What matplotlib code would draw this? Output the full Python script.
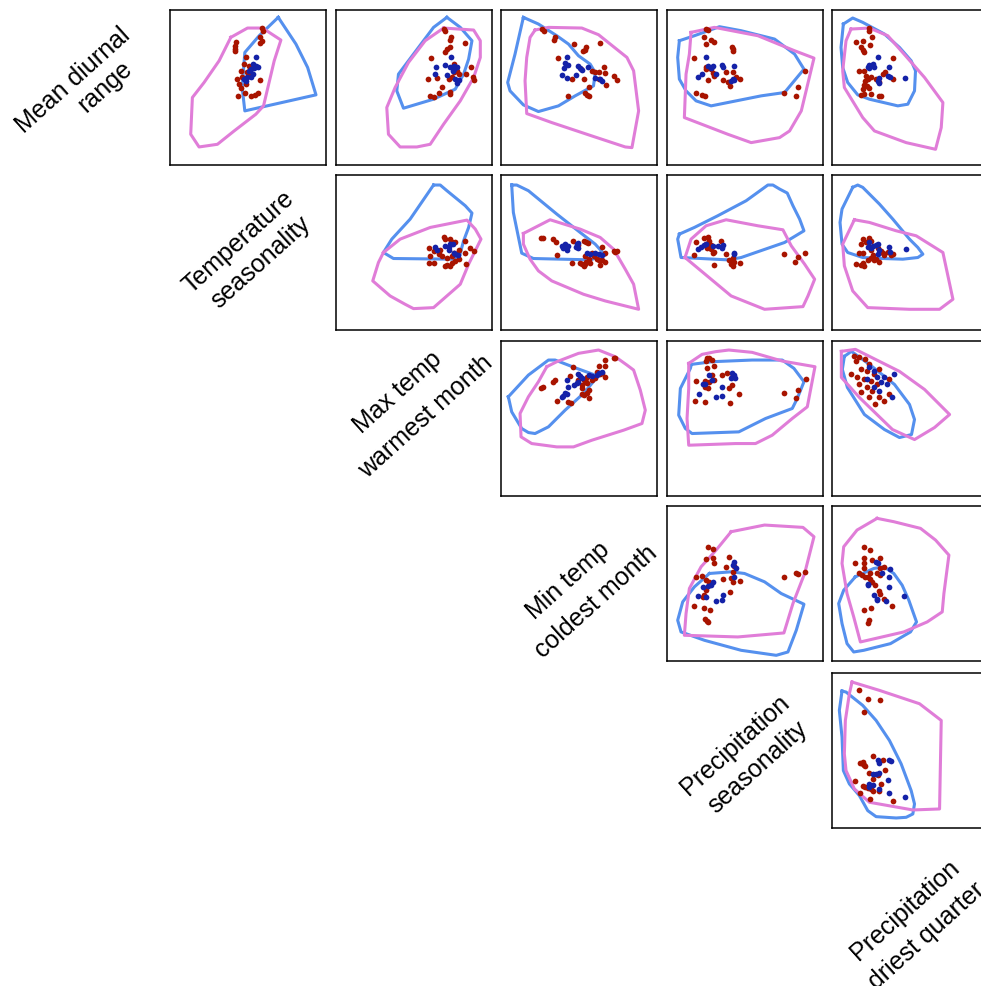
import matplotlib.pyplot as plt

# diagonal labels, one entry per text line
label_lines = ['Mean diurnal', 'range', 'Temperature', 'seasonality', 'Max temp', 'warmest month',
               'Min temp', 'coldest month', 'Precipitation', 'seasonality', 'Precipitation', 'driest quarter']
# centre of each line in picture pixels (from top-left)
label_xy = [(73, 80), (105, 87), (239, 242), (261, 262), (398, 392), (426, 417),
            (568, 581), (596, 602), (735, 745), (758, 767), (905, 910), (927, 936)]

# values, panel units (x right, y down), row/col of the grid
p00_pink = [(190,90),(240,62),(285,62),(340,98),(320,160),(288,295),(265,320),(200,370),(150,410),(95,418),(70,380),(75,270),(110,225),(155,160)]
p00_blue = [(332,30),(385,110),(420,180),(445,262),(232,310),(224,240),(232,135),(275,85)]
p00_red = [(283,62),(285,70),(278,88),(282,100),(278,108),(205,105),(203,115),(204,125),(204,132),(235,150),(230,170),(245,175),(222,190),(240,195),(210,215),(215,230),(225,210),(245,205),(278,217),(220,240),(232,255),(213,265),(250,265),(262,262),(272,257),(236,230)]
p00_dots = [(265,148),(255,170),(265,175),(270,180),(250,185),(245,190),(255,200),(240,210),(250,210),(235,220),(230,215),(260,182)]

p01_pink = [(330,62),(420,68),(440,100),(440,150),(420,210),(380,280),(330,350),(290,410),(250,418),(200,418),(165,380),(160,300),(185,240),(225,165),(275,100)]
p01_blue = [(340,30),(380,60),(415,100),(405,155),(390,200),(365,245),(300,275),(210,302),(190,250),(195,200),(240,140),(300,60)]
p01_red = [(330,65),(335,70),(352,88),(350,98),(348,118),(340,125),(333,135),(395,108),(292,152),(360,195),(370,190),(375,200),(398,200),(412,180),(418,208),(422,218),(283,215),(310,212),(325,238),(315,255),(290,265),(300,268),(348,260),(350,252),(355,210),(345,215),(360,170)]
p01_dots = [(352,148),(308,178),(335,172),(350,180),(360,175),(370,178),(358,190),(340,202),(305,200),(365,215),(370,228),(375,218),(360,185)]

p02_pink = [(110,68),(150,60),(250,62),(300,82),(385,150),(405,190),(420,310),(400,420),(380,418),(280,385),(160,345),(85,318),(80,220),(85,150),(95,90)]
p02_blue = [(75,30),(120,50),(175,85),(210,110),(240,145),(275,170),(290,195),(285,235),(230,265),(180,295),(120,312),(75,292),(35,250),(28,225),(50,140)]
p02_red = [(130,65),(138,70),(170,90),(168,98),(228,110),(262,118),(258,128),(252,132),(305,107),(178,152),(280,190),(290,195),(300,195),(318,198),(316,180),(345,205),(355,218),(322,232),(270,238),(220,215),(255,215),(260,255),(265,262),(272,265),(210,265),(300,215),(248,185)]
p02_dots = [(205,148),(200,168),(210,173),(198,182),(238,175),(245,183),(250,188),(268,178),(190,202),(205,212),(232,203),(288,212),(305,215),(310,222)]

p03_pink = [(80,75),(150,60),(280,85),(390,130),(448,152),(410,310),(375,370),(345,390),(260,405),(190,380),(60,330),(65,200),(75,140)]
p03_blue = [(45,100),(90,85),(165,58),(230,70),(330,95),(390,140),(418,185),(360,255),(290,265),(140,295),(95,280),(65,250),(45,215),(40,150)]
p03_red = [(125,65),(130,68),(120,88),(140,98),(150,105),(125,110),(202,118),(205,125),(205,132),(90,152),(125,185),(125,180),(145,198),(150,205),(185,195),(175,218),(192,225),(205,195),(215,210),(228,215),(198,235),(130,218),(95,255),(112,262),(122,266),(358,256),(400,238),(422,192),(393,265),(140,185)]
p03_dots = [(125,148),(130,175),(145,175),(140,182),(112,200),(100,210),(155,200),(172,172),(175,180),(208,177),(205,215),(200,222),(208,218)]

p04_pink = [(65,65),(120,62),(175,85),(215,130),(285,210),(340,285),(335,360),(318,425),(230,405),(135,370),(100,330),(45,240),(40,190),(50,100)]
p04_blue = [(42,50),(70,32),(100,45),(165,80),(210,120),(245,160),(258,190),(255,250),(235,290),(205,295),(120,275),(85,262),(55,225),(40,180),(35,120)]
p04_red = [(120,62),(118,70),(128,90),(102,100),(80,105),(95,118),(100,128),(105,133),(122,112),(192,152),(88,192),(105,190),(110,205),(115,215),(125,210),(108,220),(112,235),(120,240),(100,245),(95,262),(105,260),(125,258),(148,265),(155,265),(162,200),(168,195),(190,215),(140,215),(150,225),(105,232)]
p04_dots = [(145,148),(120,172),(130,170),(118,182),(135,180),(180,178),(148,212),(145,222),(148,228),(175,205),(182,210),(228,212),(115,180)]

p11_pink = [(150,240),(200,200),(290,165),(400,143),(425,170),(442,200),(405,275),(380,335),(300,405),(240,408),(215,395),(170,370),(118,325),(135,270)]
p11_blue = [(300,38),(320,38),(340,55),(395,100),(415,122),(405,165),(390,205),(378,250),(360,260),(180,258),(150,240),(175,200),(230,140)]
p11_red = [(330,195),(335,200),(350,200),(365,210),(393,205),(285,228),(300,235),(320,232),(290,250),(315,245),(325,250),(340,255),(355,250),(360,240),(370,245),(375,260),(365,265),(355,270),(340,278),(335,280),(350,280),(395,242),(410,228),(420,235),(398,275),(285,270),(300,270),(355,208),(375,232)]
p11_dots = [(305,225),(310,232),(335,220),(345,225),(350,215),(358,215),(345,232),(360,240),(365,243),(372,248)]

p12_pink = [(75,183),(155,142),(245,170),(305,195),(345,230),(380,290),(405,335),(420,410),(320,385),(255,365),(160,325),(120,295),(95,260),(75,215)]
p12_blue = [(40,38),(55,38),(90,55),(175,125),(245,180),(290,215),(320,248),(275,262),(105,258),(70,242),(45,120)]
p12_red = [(128,198),(135,198),(165,200),(172,208),(175,248),(225,205),(255,205),(262,210),(268,212),(310,225),(345,235),(350,238),(355,235),(320,240),(280,240),(285,250),(295,258),(300,262),(310,262),(320,268),(305,278),(275,270),(260,275),(255,280),(250,275),(245,270),(220,272),(258,250),(270,258),(262,268),(240,218)]
p12_dots = [(190,222),(195,228),(205,232),(200,215),(210,220),(235,215),(232,225),(240,228),(240,212),(265,240),(275,245),(290,242),(300,245),(310,248)]

p13_pink = [(62,255),(80,200),(125,160),(185,142),(280,160),(355,172),(380,220),(420,275),(450,320),(430,370),(415,402),(300,410),(200,370),(140,320)]
p13_blue = [(45,185),(90,165),(160,130),(245,85),(310,38),(325,38),(345,50),(368,62),(385,100),(405,140),(418,175),(360,210),(230,255),(190,262),(50,255),(40,200)]
p13_red = [(95,210),(120,198),(130,195),(135,205),(125,215),(130,225),(140,230),(145,240),(150,238),(170,205),(185,245),(90,248),(205,255),(195,262),(200,275),(208,268),(228,270),(150,278),(205,280),(358,245),(400,252),(392,268),(422,240),(128,228),(140,218)]
p13_dots = [(100,230),(110,225),(118,218),(125,215),(145,220),(160,222),(172,228),(175,218),(208,245),(210,240)]

p14_pink = [(75,142),(120,150),(200,175),(260,190),(340,240),(370,380),(350,395),(330,410),(240,410),(115,405),(70,355),(45,280),(40,215)]
p14_blue = [(70,45),(85,38),(100,45),(150,95),(190,140),(240,200),(265,225),(280,245),(265,255),(220,260),(160,258),(100,255),(55,240),(38,215),(32,150),(38,110)]
p14_red = [(100,200),(118,198),(125,205),(110,210),(95,215),(120,225),(125,232),(100,240),(90,240),(130,248),(125,255),(115,262),(100,270),(95,278),(80,275),(105,280),(135,262),(150,268),(140,258),(160,240),(165,248),(175,238),(185,248),(192,245),(145,228),(155,235)]
p14_dots = [(120,210),(115,225),(130,222),(140,218),(145,215),(150,232),(145,245),(178,225),(182,238),(230,230),(125,228)]

p22_pink = [(145,85),(175,70),(240,45),(300,35),(350,55),(385,80),(405,95),(425,155),(440,215),(430,255),(375,275),(280,305),(225,325),(175,325),(100,315),(68,295),(65,225),(90,175),(120,130)]
p22_blue = [(30,175),(90,110),(150,65),(170,65),(235,90),(290,110),(305,105),(255,165),(200,215),(150,265),(110,285),(90,282),(70,270),(40,220)]
p22_red = [(345,58),(350,60),(318,65),(318,82),(300,82),(225,85),(295,102),(310,105),(320,115),(290,120),(280,125),(265,115),(258,125),(262,130),(265,135),(250,140),(250,150),(255,125),(215,112),(170,125),(165,130),(128,148),(133,145),(270,155),(265,165),(255,170),(250,168),(272,180),(175,188),(210,190),(218,195),(305,108),(240,125)]
p22_dots = [(238,108),(245,112),(250,118),(205,125),(208,145),(200,165),(205,168),(190,175),(195,172),(235,135),(240,130),(228,140),(300,105),(310,100),(295,110),(270,110),(280,112)]

p23_pink = [(73,75),(113,48),(153,40),(193,35),(263,42),(353,68),(451,85),(428,205),(383,240),(323,290),(273,315),(213,315),(73,320),(68,240),(73,150)]
p23_blue = [(81,78),(143,70),(263,65),(353,65),(388,90),(418,130),(398,180),(383,210),(303,240),(223,280),(83,285),(63,270),(43,230),(48,150),(78,90)]
p23_red = [(128,60),(133,58),(125,68),(143,65),(148,82),(128,88),(95,128),(123,128),(133,130),(123,145),(131,150),(148,125),(173,110),(188,105),(203,115),(203,140),(193,148),(225,168),(198,195),(121,192),(91,188),(358,165),(401,155),(393,180),(423,123),(143,110)]
p23_dots = [(133,110),(115,138),(121,138),(143,125),(173,145),(103,168),(155,175),(173,172),(203,105),(208,110),(213,118),(201,118)]

p24_pink = [(36,39),(78,33),(210,99),(285,153),(360,228),(315,267),(255,303),(189,273),(90,177),(36,117)]
p24_blue = [(45,54),(66,39),(120,78),(195,138),(240,198),(255,243),(246,288),(210,297),(165,273),(105,228),(54,147),(39,93)]
p24_red = [(75,54),(81,69),(90,57),(108,63),(120,78),(96,93),(114,99),(135,108),(150,93),(84,117),(105,123),(126,129),(144,138),(114,147),(129,159),(96,162),(120,177),(150,177),(165,189),(180,168),(138,198),(90,138),(66,108),(180,123)]
p24_dots = [(120,87),(135,99),(144,117),(156,132),(165,117),(174,138),(150,159),(189,177),(135,147),(114,123),(195,108)]

p33_pink = [(200,85),(300,65),(415,72),(448,100),(420,210),(385,300),(358,388),(220,400),(60,395),(65,330),(75,255),(110,190),(155,140)]
p33_blue = [(135,210),(200,205),(240,210),(300,235),(350,270),(418,302),(395,380),(370,445),(335,455),(230,440),(120,410),(50,385),(40,350),(55,295),(90,250)]
p33_red = [(130,130),(145,138),(125,168),(145,165),(150,180),(195,162),(185,190),(210,188),(95,220),(112,218),(125,230),(135,235),(125,260),(120,275),(115,280),(90,308),(118,312),(138,318),(122,345),(128,352),(132,355),(175,228),(200,225),(205,235),(228,232),(198,265),(358,222),(395,210),(400,212),(422,205),(205,205)]
p33_dots = [(208,175),(205,185),(215,195),(210,220),(145,235),(140,245),(130,248),(115,250),(100,278),(125,280),(175,275),(172,290),(155,292)]

p34_pink = [(143,45),(193,55),(273,75),(318,110),(358,155),(343,270),(338,325),(293,355),(223,385),(93,415),(73,340),(53,270),(38,180),(43,130),(83,80)]
p34_blue = [(78,220),(133,195),(163,190),(193,210),(218,245),(238,290),(261,355),(243,385),(183,420),(103,440),(73,445),(53,420),(38,360),(28,300),(43,260)]
p34_red = [(105,130),(121,140),(103,165),(128,170),(153,165),(78,180),(103,180),(103,195),(88,208),(98,215),(108,220),(115,222),(123,228),(128,235),(153,195),(163,190),(123,210),(143,208),(153,215),(138,245),(148,262),(153,270),(103,318),(125,312),(118,350),(115,358),(188,308),(163,285)]
p34_dots = [(140,175),(145,180),(183,198),(178,220),(115,240),(115,245),(178,250),(133,275),(143,285),(143,290),(171,292),(225,278),(158,210)]

p44_pink = [(68,35),(150,60),(270,100),(335,150),(330,415),(250,418),(120,395),(75,355),(50,300),(45,250),(48,150),(60,70)]
p44_blue = [(38,62),(50,65),(100,105),(140,150),(180,210),(215,280),(245,360),(255,400),(250,430),(230,440),(200,442),(140,438),(115,420),(90,375),(60,340),(42,300),(38,200),(30,120)]
p44_red = [(88,58),(115,85),(152,90),(105,125),(132,255),(162,268),(92,278),(100,275),(105,282),(108,285),(168,298),(120,308),(145,312),(130,325),(78,330),(100,345),(108,348),(115,352),(125,355),(130,360),(148,360),(155,340),(92,368),(122,385),(190,392),(102,280),(118,345)]
p44_dots = [(145,268),(150,278),(180,268),(185,272),(132,310),(140,310),(148,308),(175,328),(118,340),(120,348),(148,355),(178,368),(228,380),(130,342)]

panels = {
    (0, 0): (p00_pink, p00_blue, p00_red, p00_dots), (0, 1): (p01_pink, p01_blue, p01_red, p01_dots),
    (0, 2): (p02_pink, p02_blue, p02_red, p02_dots), (0, 3): (p03_pink, p03_blue, p03_red, p03_dots),
    (0, 4): (p04_pink, p04_blue, p04_red, p04_dots), (1, 1): (p11_pink, p11_blue, p11_red, p11_dots),
    (1, 2): (p12_pink, p12_blue, p12_red, p12_dots), (1, 3): (p13_pink, p13_blue, p13_red, p13_dots),
    (1, 4): (p14_pink, p14_blue, p14_red, p14_dots), (2, 2): (p22_pink, p22_blue, p22_red, p22_dots),
    (2, 3): (p23_pink, p23_blue, p23_red, p23_dots), (2, 4): (p24_pink, p24_blue, p24_red, p24_dots),
    (3, 3): (p33_pink, p33_blue, p33_red, p33_dots), (3, 4): (p34_pink, p34_blue, p34_red, p34_dots),
    (4, 4): (p44_pink, p44_blue, p44_red, p44_dots),
}

W, H = 981, 986
col_left = [170, 336, 501, 667, 832]
row_top = [10, 175, 341, 506, 673]
pw, ph = 156, 155

PINK = '#e07dd8'
BLUE = '#5590ee'
RED = '#a81400'
NAVY = '#1422a8'

fig = plt.figure(figsize=(W / 100, H / 100), dpi=100)

for (r, c), (pink, blue, red, dots) in panels.items():
    ax = fig.add_axes([col_left[c] / W, 1 - (row_top[r] + ph) / H, pw / W, ph / H])
    for poly, col in ((blue, BLUE), (pink, PINK)):
        xs = [p[0] for p in poly] + [poly[0][0]]
        ys = [p[1] for p in poly] + [poly[0][1]]
        ax.plot(xs, ys, color=col, lw=2.2, solid_joinstyle='round')
    ax.scatter([p[0] for p in red], [p[1] for p in red], s=17, color=RED, lw=0, zorder=3)
    ax.scatter([p[0] for p in dots], [p[1] for p in dots], s=17, color=NAVY, lw=0, zorder=4)
    ax.set_xlim(8, 475)
    ax.set_ylim(472, 8)
    ax.set_xticks([])
    ax.set_yticks([])
    for sp in ax.spines.values():
        sp.set_linewidth(1.1)
        sp.set_color('black')

for txt, (x, y) in zip(label_lines, label_xy):
    fig.text(x / W, 1 - y / H, txt, rotation=42, rotation_mode='anchor', ha='center', va='center',
             fontsize=18, family='Liberation Sans')

fig.savefig('out.png', dpi=100)
